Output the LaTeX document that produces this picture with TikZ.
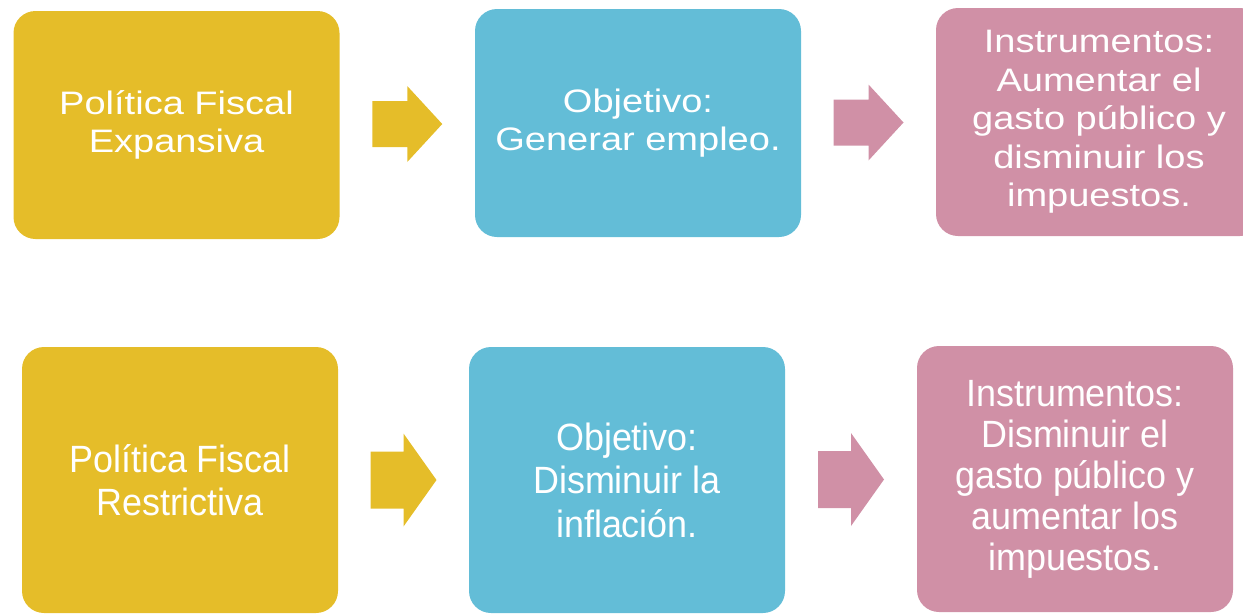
\documentclass[tikz,border=0pt]{standalone}
\usepackage{fontspec}
\setmainfont{Liberation Sans}
\newfontfamily\fuenteancha[FakeStretch=1.17]{Liberation Sans}
\newfontfamily\fuenteestrecha[FakeStretch=0.945]{Liberation Sans}
\usetikzlibrary{calc}
\definecolor{amarillo}{RGB}{229,189,41}
\definecolor{azul}{RGB}{99,189,215}
\definecolor{rosa}{RGB}{208,144,166}

\begin{document}
\begin{tikzpicture}[x=1pt, y=-1pt,
	caja/.style={rounded corners=22pt, inner sep=0pt, text=white, align=center},
	cajaA/.style={caja, minimum width=326pt, minimum height=228pt,
		font=\fuenteancha\fontsize{32.5}{38.5}\selectfont},
	cajaB/.style={caja, minimum width=316pt, minimum height=266pt,
		font=\fuenteestrecha\fontsize{38}{43.5}\selectfont}]
	\useasboundingbox (0,0) rectangle (1243,614);

% politica expansiva
	\node[cajaA, fill=amarillo] (expansiva) at (176.5,125) {Política Fiscal\\Expansiva};
	\node[cajaA, fill=azul] (objetivoA) at (638,123) {Objetivo:\\Generar empleo.};
	\node[cajaA, fill=rosa] (instrumentosA) at (1099,122)
		{Instrumentos:\\Aumentar el\\gasto público y\\disminuir los\\impuestos.};

% politica restrictiva
	\node[cajaB, fill=amarillo] (restrictiva) at (180,480) {Política Fiscal\\Restrictiva};
	\node[cajaB, fill=azul] (objetivoB) at (627,480) {Objetivo:\\Disminuir la\\inflación.};
	\node[cajaB, fill=rosa, font=\fuenteestrecha\fontsize{38}{41}\selectfont] (instrumentosB) at (1075,479)
		{Instrumentos:\\Disminuir el\\gasto público y\\aumentar los\\impuestos.};

% flechas
	\foreach \a/\b/\c/\lon/\eje/\pun in {expansiva/objetivoA/amarillo/35/23/38,
			objetivoA/instrumentosA/rosa/35/23/38,
			restrictiva/objetivoB/amarillo/33/28.5/46.5,
			objetivoB/instrumentosB/rosa/33/28.5/46.5}
		\fill[\c] ($(\a.east)!0.5!(\b.west)$) ++(-\lon,-\eje) -- ++(\lon,0) -- ++(0,\eje-\pun)
			-- ++(\lon,\pun) -- ++(-\lon,\pun) -- ++(0,\eje-\pun) -- ++(-\lon,0) -- cycle;
\end{tikzpicture}
\end{document}
